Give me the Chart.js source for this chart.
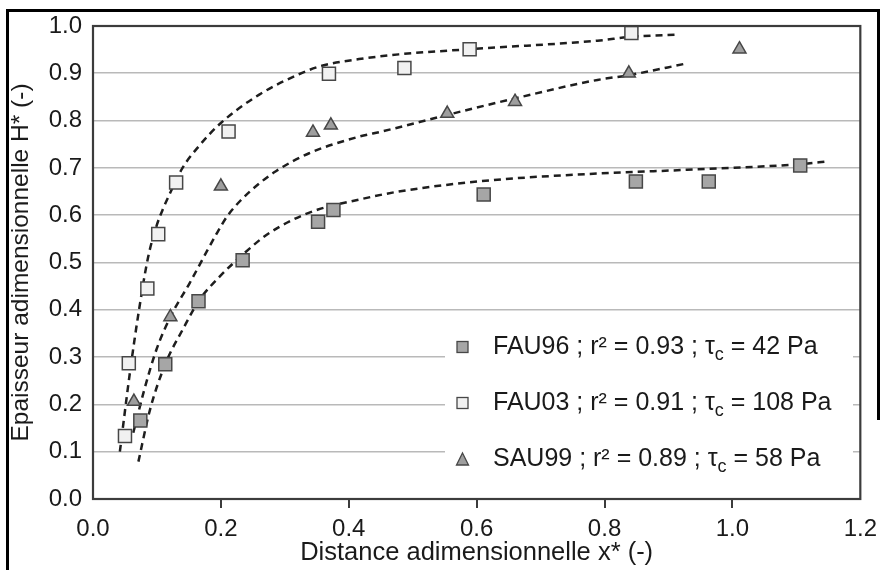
<!DOCTYPE html>
<html><head><meta charset="utf-8">
<script src="https://cdn.jsdelivr.net/npm/chart.js@4/dist/chart.umd.min.js"></script>
<style>html,body{margin:0;padding:0;background:#fff;}#wrap{position:relative;width:884px;height:570px;}</style>
</head><body><div id="wrap"><canvas id="c" width="884" height="570"></canvas></div>
<script>
// Measured points
const fau96X = [0.074, 0.113, 0.165, 0.234, 0.352, 0.376, 0.611, 0.849, 0.963, 1.106];
const fau96Y = [0.166, 0.285, 0.418, 0.505, 0.586, 0.611, 0.644, 0.671, 0.671, 0.705];
const fau03X = [0.050, 0.056, 0.085, 0.102, 0.130, 0.212, 0.369, 0.487, 0.589, 0.842];
const fau03Y = [0.133, 0.287, 0.445, 0.560, 0.669, 0.777, 0.899, 0.911, 0.951, 0.985];
const sau99X = [0.064, 0.121, 0.200, 0.344, 0.372, 0.554, 0.660, 0.838, 1.011];
const sau99Y = [0.206, 0.385, 0.661, 0.775, 0.790, 0.815, 0.840, 0.900, 0.951];
// Fitted curves
const fitFau96X = [0.071, 0.089, 0.113, 0.141, 0.166, 0.198, 0.237, 0.270, 0.312, 0.352, 0.416, 0.478, 0.607, 0.758, 0.929, 1.106, 1.150];
const fitFau96Y = [0.079, 0.188, 0.285, 0.360, 0.420, 0.470, 0.520, 0.557, 0.590, 0.612, 0.633, 0.650, 0.672, 0.686, 0.696, 0.708, 0.714];
const fitFau03X = [0.042, 0.058, 0.072, 0.086, 0.100, 0.110, 0.120, 0.140, 0.165, 0.200, 0.260, 0.322, 0.358, 0.416, 0.478, 0.589, 0.789, 0.842, 0.916];
const fitFau03Y = [0.100, 0.270, 0.400, 0.510, 0.580, 0.615, 0.645, 0.700, 0.745, 0.795, 0.855, 0.898, 0.916, 0.930, 0.940, 0.951, 0.969, 0.977, 0.982];
const fitSau99X = [0.063, 0.080, 0.099, 0.121, 0.151, 0.179, 0.195, 0.210, 0.230, 0.260, 0.286, 0.338, 0.416, 0.452, 0.554, 0.660, 0.789, 0.838, 0.929];
const fitSau99Y = [0.140, 0.230, 0.315, 0.385, 0.456, 0.526, 0.565, 0.598, 0.630, 0.667, 0.693, 0.731, 0.766, 0.777, 0.812, 0.847, 0.886, 0.896, 0.921];
// Legend
const legendNames = ['FAU96', 'FAU03', 'SAU99'];
const legendR2 = ['0.93', '0.91', '0.89'];
const legendTau = ['42', '108', '58'];
// Axis labels
const xTitle = 'Distance adimensionnelle x* (-)';
const yTitle = 'Epaisseur adimensionnelle H* (-)';

const FONT = "'Liberation Sans', Arial, sans-serif";
const pts = (xs, ys) => xs.map((x, i) => ({x, y: ys[i]}));

const markerStyles = [
  {pointStyle: 'rect', backgroundColor: '#a6a6a6', borderColor: '#474747'},
  {pointStyle: 'rect', backgroundColor: '#f1f1f1', borderColor: '#474747'},
  {pointStyle: 'triangle', backgroundColor: '#9e9e9e', borderColor: '#474747'}
];

function fitDs(xs, ys) {
  return {type: 'line', data: pts(xs, ys), showLine: true, pointRadius: 0, borderColor: '#1e1e1e',
    borderWidth: 2.5, borderDash: [7, 5], fill: false, cubicInterpolationMode: 'monotone'};
}

const framePlugin = {
  id: 'frame',
  beforeDatasetsDraw(chart) {
    const {ctx} = chart;
    ctx.save();
    ctx.fillStyle = '#ffffff';
    ctx.fillRect(445, 322, 408, 162);
    ctx.restore();
  },
  afterDatasetsDraw(chart) {
    const {ctx, chartArea: a} = chart;
    ctx.save();
    ctx.strokeStyle = '#3c3c3c';
    ctx.lineWidth = 2.2;
    ctx.strokeRect(a.left, a.top, a.right - a.left, a.bottom - a.top);
    // legend
    const rowsY = [347, 403, 459];
    for (let i = 0; i < 3; i++) {
      const y = rowsY[i];
      const m = markerStyles[i];
      ctx.fillStyle = m.backgroundColor;
      ctx.strokeStyle = m.borderColor;
      ctx.lineWidth = 1.3;
      if (m.pointStyle === 'rect') {
        ctx.fillRect(457, y - 5.5, 11, 11);
        ctx.strokeRect(457, y - 5.5, 11, 11);
      } else {
        ctx.beginPath();
        ctx.moveTo(462.5, y - 6);
        ctx.lineTo(468.5, y + 6);
        ctx.lineTo(456.5, y + 6);
        ctx.closePath();
        ctx.fill(); ctx.stroke();
      }
      ctx.fillStyle = '#1a1a1a';
      ctx.textBaseline = 'middle';
      ctx.textAlign = 'left';
      let x = 493;
      ctx.font = '25px ' + FONT;
      const s1 = legendNames[i] + ' ; r\u00b2 = ' + legendR2[i] + ' ; \u03c4';
      ctx.fillText(s1, x, y);
      x += ctx.measureText(s1).width;
      ctx.font = '18px ' + FONT;
      ctx.fillText('c', x, y + 8);
      x += ctx.measureText('c').width;
      ctx.font = '25px ' + FONT;
      ctx.fillText(' = ' + legendTau[i] + ' Pa', x, y);
    }
    ctx.restore();
  },
  afterDraw(chart) {
    const ctx = chart.ctx;
    ctx.save();
    ctx.strokeStyle = '#000';
    ctx.lineWidth = 3;
    ctx.beginPath();
    ctx.moveTo(7.5, 580);
    ctx.lineTo(7.5, 10.5);
    ctx.lineTo(878.5, 10.5);
    ctx.lineTo(878.5, 420);
    ctx.stroke();
    ctx.restore();
  }
};

Chart.defaults.font.family = FONT;
Chart.defaults.color = '#1a1a1a';

new Chart(document.getElementById('c'), {
  type: 'scatter',
  data: {
    datasets: [
      Object.assign({label: legendNames[0], data: pts(fau96X, fau96Y), pointRadius: 9.2, borderWidth: 1.5}, markerStyles[0]),
      Object.assign({label: legendNames[1], data: pts(fau03X, fau03Y), pointRadius: 9.2, borderWidth: 1.5}, markerStyles[1]),
      Object.assign({label: legendNames[2], data: pts(sau99X, sau99Y), pointRadius: 7.5, borderWidth: 1.5}, markerStyles[2]),
      fitDs(fitFau96X, fitFau96Y),
      fitDs(fitFau03X, fitFau03Y),
      fitDs(fitSau99X, fitSau99Y)
    ]
  },
  options: {
    responsive: false,
    animation: false,
    devicePixelRatio: 1,
    layout: {padding: {top: 26, right: 20, left: 0, bottom: 0}},
    plugins: {legend: {display: false}, tooltip: {enabled: false}},
    scales: {
      x: {
        type: 'linear', min: 0, max: 1.2,
        afterFit: s => { s.height = 71; },
        border: {display: false},
        grid: {drawOnChartArea: false, drawTicks: true, tickLength: 9, lineWidth: 2,
          tickColor: c => (c.index === 0 || c.index === 6) ? 'rgba(0,0,0,0)' : '#3c3c3c'},
        ticks: {stepSize: 0.2, padding: 7, font: {size: 24}, maxRotation: 0,
          callback: v => Number(v).toFixed(1)},
        title: {display: true, text: xTitle, font: {size: 25.5}, padding: {top: 0, bottom: 2}}
      },
      y: {
        type: 'linear', min: 0, max: 1,
        afterFit: s => { s.width = 93; },
        border: {display: false},
        grid: {drawTicks: false, color: '#b9b9b9', lineWidth: 1.6},
        ticks: {stepSize: 0.1, padding: 11, font: {size: 24},
          callback: v => Number(v).toFixed(1)},
        title: {display: true, text: yTitle, font: {size: 24.5}, padding: {top: 7, bottom: 0}}
      }
    }
  },
  plugins: [framePlugin]
});
</script></body></html>
